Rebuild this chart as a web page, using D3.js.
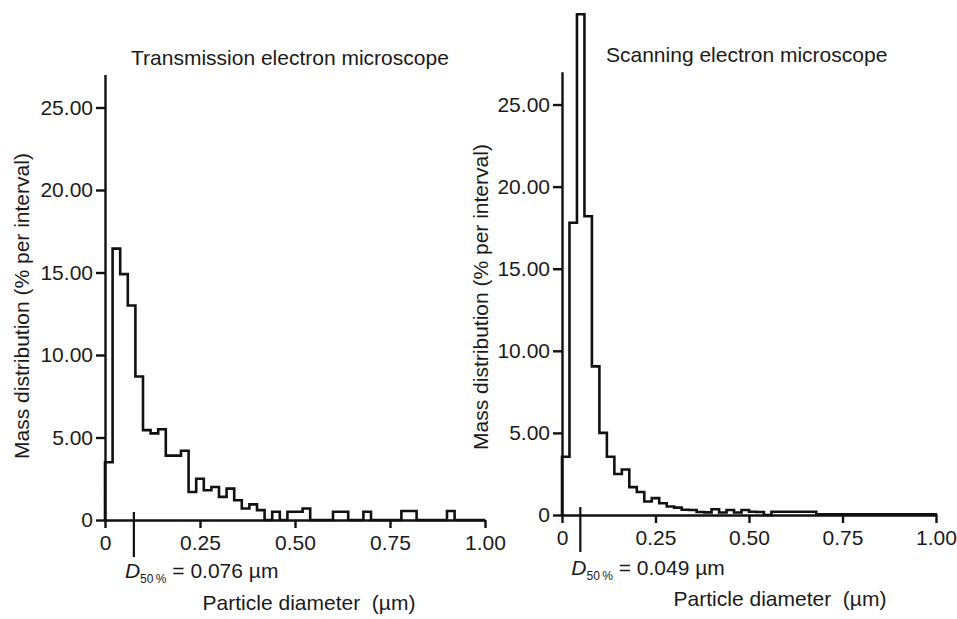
<!DOCTYPE html>
<html>
  <head>
    <meta charset="utf-8">
    <style>
      body { margin: 0; background: #fff; }
      text { font-family: "Liberation Sans", Arial, sans-serif; fill: #1a1a1a; }
    </style>
  </head>
  <body>
    <div id="my_dataviz"></div>
  </body>
</html>

<script src="https://d3js.org/d3.v7.min.js"></script>

<script>

    // histogram bins are 0.02 um wide, from 0 to 1.00 um
    var binWidth = 0.02

    // TEM: % mass per interval, one value per bin
    var temValues = [3.5, 16.45, 14.9, 13.0, 8.7, 5.45, 5.25, 5.5, 3.9, 3.9,
                     4.2, 1.7, 2.5, 1.8, 2.0, 1.4, 1.9, 1.2, 0.7, 0.95,
                     0.6, 0, 0.5, 0, 0.5, 0.5, 0.7, 0, 0, 0,
                     0.5, 0.5, 0, 0, 0.5, 0, 0, 0, 0, 0.55,
                     0.55, 0, 0, 0, 0, 0.55, 0, 0, 0, 0]

    // SEM: % mass per interval
    var semValues = [3.55, 17.8, 30.5, 18.2, 9.05, 5.0, 3.55, 2.5, 2.77, 1.7,
                     1.4, 0.82, 1.03, 0.72, 0.52, 0.45, 0.32, 0.3, 0.18, 0.16,
                     0.35, 0.15, 0.3, 0.15, 0.3, 0.2, 0.18, 0, 0.2, 0.2,
                     0.2, 0.2, 0.2, 0.2, 0.05, 0.04, 0.04, 0.04, 0.04, 0.04,
                     0.04, 0.04, 0.04, 0.04, 0.04, 0.04, 0.04, 0.04, 0.04, 0.04]

    var titles = ["Transmission electron microscope", "Scanning electron microscope"]
    var d50Values = ["0.076", "0.049"]
    var xTickValues = [0, 0.25, 0.5, 0.75, 1.0]
    var xTickLabels = ["0", "0.25", "0.50", "0.75", "1.00"]
    var yTickValues = [0, 5, 10, 15, 20, 25]
    var yTickLabels = ["0", "5.00", "10.00", "15.00", "20.00", "25.00"]
    var yLabel = "Mass distribution (% per interval)"
    var xLabel = "Particle diameter  (\u00b5m)"

    var width = 957
        height = 619

    var svg = d3.select("#my_dataviz")
      .append("svg")
        .attr("width", width)
        .attr("height", height)

    // layout of the two panels (pixel positions)
    var panels = [
      {values: temValues, title: titles[0], d50: d50Values[0],
       x0: 105, x1: 485, y0: 520, yTop: 74.5,
       titleX: 131, titleY: 65, ylabX: 29, ylabY: 306, xlabX: 309, xlabY: 610, d50Y: 578},
      {values: semValues, title: titles[1], d50: d50Values[1],
       x0: 562, x1: 936, y0: 515, yTop: 71.7,
       titleX: 606, titleY: 62, ylabX: 488, ylabY: 297, xlabX: 780, xlabY: 606, d50Y: 575}
    ]

    panels.forEach(function(p) {
      var x = d3.scaleLinear().domain([0, 1]).range([p.x0, p.x1])
      var y = d3.scaleLinear().domain([0, 27]).range([p.y0, p.yTop])

      var g = svg.append("g")

      // step outline of the histogram
      var pts = [[0, 0]]
      p.values.forEach(function(v, i) {
        pts.push([i * binWidth, v])
        pts.push([(i + 1) * binWidth, v])
      })
      pts.push([p.values.length * binWidth, 0])

      g.append("path")
        .datum(pts)
        .attr("d", d3.line().x(function(d){ return x(d[0]) }).y(function(d){ return y(d[1]) }))
        .attr("fill", "none")
        .attr("stroke", "#111")
        .attr("stroke-width", 2.6)
        .attr("stroke-linejoin", "miter")

      // axes
      g.append("g")
        .attr("transform", "translate(0," + p.y0 + ")")
        .call(d3.axisBottom(x)
          .tickValues(xTickValues)
          .tickFormat(function(d, i){ return xTickLabels[i] })
          .tickSize(8).tickSizeOuter(0).tickPadding(7))
      g.append("g")
        .attr("transform", "translate(" + p.x0 + ",0)")
        .call(d3.axisLeft(y)
          .tickValues(yTickValues)
          .tickFormat(function(d, i){ return yTickLabels[i] })
          .tickSize(9).tickSizeOuter(0).tickPadding(3))

      g.selectAll(".domain, .tick line")
        .attr("stroke", "#111")
        .attr("stroke-width", 2.4)
      g.selectAll(".tick text")
        .attr("fill", "#1a1a1a")
        .style("font-size", "21px")
        .style("font-family", "'Liberation Sans', Arial, sans-serif")

      // D50 marker
      g.append("line")
        .attr("x1", x(+p.d50)).attr("x2", x(+p.d50))
        .attr("y1", p.y0 - 8).attr("y2", p.y0 + 37)
        .attr("stroke", "#111")
        .attr("stroke-width", 2.2)

      var lab = g.append("text")
        .attr("x", x(+p.d50) - 9)
        .attr("y", p.d50Y)
        .style("font-size", "21px")
      lab.append("tspan").style("font-style", "italic").text("D")
      lab.append("tspan").attr("dy", 5).style("font-size", "12px").text("50\u2009%")
      lab.append("tspan").attr("dy", -5).text(" = " + p.d50 + " \u00b5m")

      // titles and axis labels
      g.append("text")
        .attr("x", p.titleX).attr("y", p.titleY)
        .style("font-size", "21px")
        .text(p.title)

      g.append("text")
        .attr("transform", "translate(" + p.ylabX + "," + p.ylabY + ") rotate(-90)")
        .attr("text-anchor", "middle")
        .style("font-size", "21px")
        .text(yLabel)

      g.append("text")
        .attr("x", p.xlabX).attr("y", p.xlabY)
        .attr("text-anchor", "middle")
        .style("font-size", "21px")
        .style("white-space", "pre")
        .text(xLabel)
    })

</script>
